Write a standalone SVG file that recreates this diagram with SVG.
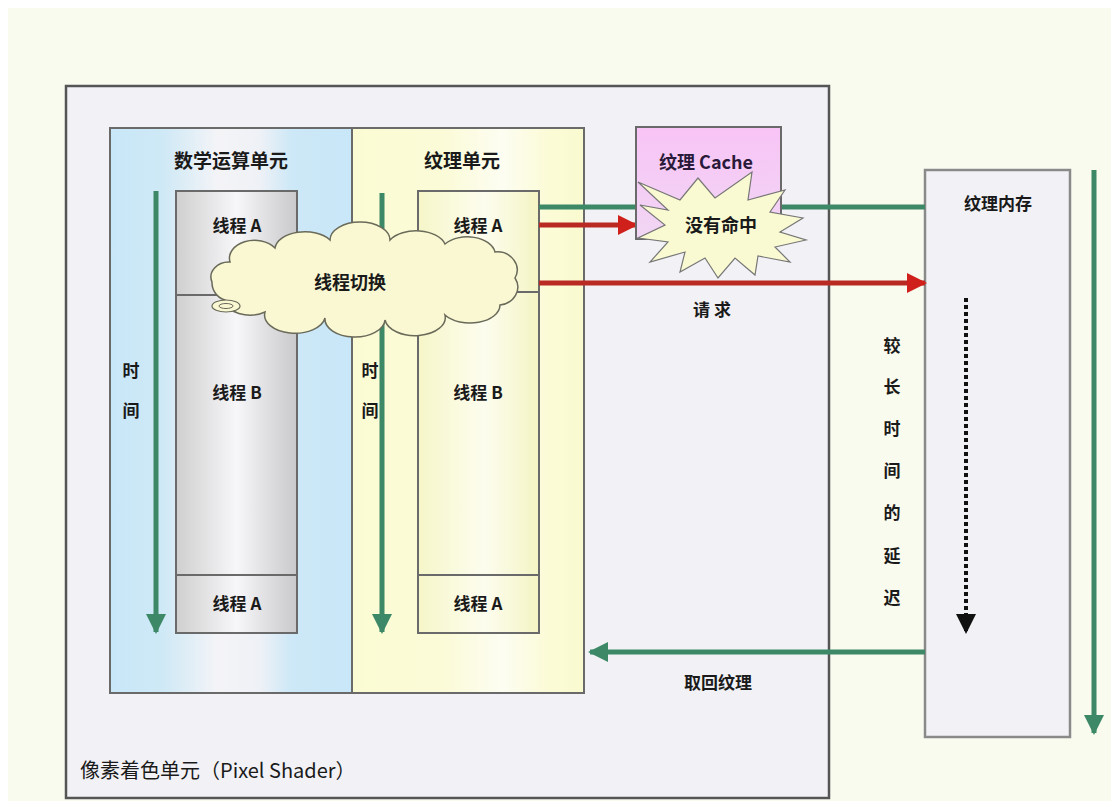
<svg xmlns="http://www.w3.org/2000/svg" width="1111" height="801" viewBox="0 0 1111 801">
<defs>
<style>
.t{font-family:"Noto Sans CJK SC","Noto Sans",sans-serif;font-weight:bold;fill:#1a1a1a;text-anchor:middle}
.box{stroke:#6a6a6a;stroke-width:2}
.g{stroke:#3d8867;stroke-width:5;fill:none}
.r{stroke:#b82a22;stroke-width:5;fill:none}
</style>
<linearGradient id="blue" x1="0" x2="1" y1="0" y2="0">
<stop offset="0" stop-color="#c8e7f8"/><stop offset="0.22" stop-color="#cfe9f6"/><stop offset="0.45" stop-color="#f4f4f7"/><stop offset="0.62" stop-color="#eef1f6"/><stop offset="0.75" stop-color="#cde8f7"/><stop offset="1" stop-color="#c8e7f8"/>
</linearGradient>
<linearGradient id="yel" x1="0" x2="1" y1="0" y2="0">
<stop offset="0" stop-color="#fbfbd3"/><stop offset="0.4" stop-color="#fbfbd8"/><stop offset="0.65" stop-color="#fdfdf2"/><stop offset="0.85" stop-color="#fbfbd6"/><stop offset="1" stop-color="#fafad0"/>
</linearGradient>
<linearGradient id="grey" x1="0" x2="1" y1="0" y2="0">
<stop offset="0" stop-color="#cfcfd0"/><stop offset="0.5" stop-color="#f7f7f9"/><stop offset="1" stop-color="#c9c9cb"/>
</linearGradient>
<linearGradient id="ythr" x1="0" x2="1" y1="0" y2="0">
<stop offset="0" stop-color="#f6f6c9"/><stop offset="0.55" stop-color="#fdfdef"/><stop offset="1" stop-color="#f4f4c4"/>
</linearGradient>
<linearGradient id="pink" x1="0" x2="0" y1="0" y2="1">
<stop offset="0" stop-color="#f8c4f6"/><stop offset="1" stop-color="#f1d6f4"/>
</linearGradient>
<marker id="ag" viewBox="0 0 10 10" refX="9" refY="5" markerWidth="4" markerHeight="4" orient="auto" markerUnits="strokeWidth"><path d="M0,0 L10,5 L0,10 Z" fill="#3d8867"/></marker>
<marker id="ar" viewBox="0 0 10 10" refX="9" refY="5" markerWidth="4" markerHeight="4" orient="auto" markerUnits="strokeWidth"><path d="M0,0 L10,5 L0,10 Z" fill="#d0201c"/></marker>
<marker id="ak" viewBox="0 0 10 10" refX="9" refY="5" markerWidth="5" markerHeight="5" orient="auto" markerUnits="strokeWidth"><path d="M0,0 L10,5 L0,10 Z" fill="#111"/></marker>
</defs>
<rect width="1111" height="801" fill="#ffffff"/>
<rect x="8" y="8" width="1103" height="793" fill="#fafbef"/>

<g id="pixel-shader">
<rect x="66" y="86" width="763" height="712" fill="#f2f2f6" stroke="#555" stroke-width="2.5"/>
<text x="80" y="778" style="font-family:'Noto Sans CJK SC',sans-serif;font-size:20px;fill:#1a1a1a">像素着色单元（Pixel Shader）</text>
</g>

<g id="math-unit">
<rect class="box" x="110" y="128" width="242" height="565" fill="url(#blue)"/>
<text class="t" x="231" y="168" font-size="19">数学运算单元</text>
<text class="t" x="131" y="377" font-size="17">时</text>
<text class="t" x="131" y="417" font-size="17">间</text>
</g>

<g id="texture-unit">
<rect class="box" x="352" y="128" width="232" height="565" fill="url(#yel)"/>
<text class="t" x="462" y="168" font-size="19">纹理单元</text>
<text class="t" x="370" y="377" font-size="17">时</text>
<text class="t" x="370" y="417" font-size="17">间</text>
</g>

<g id="math-threads">
<rect class="box" x="176" y="191" width="121" height="442" fill="url(#grey)"/>
<line x1="176" y1="295" x2="297" y2="295" stroke="#6a6a6a" stroke-width="2"/>
<line x1="176" y1="575" x2="297" y2="575" stroke="#6a6a6a" stroke-width="2"/>
<text class="t" x="237" y="232" font-size="17">线程 A</text>
<text class="t" x="237" y="399" font-size="17">线程 B</text>
<text class="t" x="237" y="610" font-size="17">线程 A</text>
</g>

<g id="tex-threads">
<rect class="box" x="418" y="191" width="121" height="442" fill="url(#ythr)"/>
<line x1="418" y1="292" x2="539" y2="292" stroke="#6a6a6a" stroke-width="2"/>
<line x1="418" y1="575" x2="539" y2="575" stroke="#6a6a6a" stroke-width="2"/>
<text class="t" x="478" y="232" font-size="17">线程 A</text>
<text class="t" x="478" y="399" font-size="17">线程 B</text>
<text class="t" x="478" y="610" font-size="17">线程 A</text>
</g>

<g id="texture-memory">
<rect x="925" y="170" width="145" height="567" fill="#f2f2f6" stroke="#8a8a8a" stroke-width="2.5"/>
<text class="t" x="998" y="210" font-size="17">纹理内存</text>
</g>

<g id="connectors">
<line class="g" x1="156" y1="191" x2="156" y2="632" marker-end="url(#ag)"/>
<line class="g" x1="382" y1="193" x2="382" y2="632" marker-end="url(#ag)"/>
<line class="g" x1="539" y1="207" x2="925" y2="207"/>
<line class="r" x1="539" y1="225" x2="636" y2="225" marker-end="url(#ar)"/>
<line class="r" x1="539" y1="283" x2="925" y2="283" marker-end="url(#ar)"/>
<line x1="966" y1="298" x2="966" y2="632" stroke="#111" stroke-width="4" stroke-dasharray="4 3" marker-end="url(#ak)"/>
<line class="g" x1="1094" y1="170" x2="1094" y2="733" marker-end="url(#ag)"/>
<line class="g" x1="925" y1="652" x2="590" y2="652" marker-end="url(#ag)"/>
</g>

<g id="texture-cache">
<rect x="636" y="127" width="145" height="112" fill="url(#pink)" stroke="#6a6a6a" stroke-width="2"/>
<text x="706" y="169" style="font-family:'Noto Sans CJK SC','Liberation Serif',serif;font-size:18px;font-weight:bold;fill:#2a1a3a;text-anchor:middle">纹理 Cache</text>
</g>

<g id="cache-miss">
<polygon points="638,182 680,200 698,178 715,198 752,172 748,200 785,190 770,212 803,218 780,232 806,240 775,247 790,262 758,256 755,275 735,258 718,278 705,258 680,272 685,252 650,262 668,242 638,238 665,225 640,205 668,210" fill="#fafad2" stroke="#777" stroke-width="1.2"/>
<text class="t" x="721" y="232" font-size="18">没有命中</text>
</g>

<g id="thread-switch">
<path d="M230,262 A25 18 0 0 1 275,248 A30 18 0 0 1 330,240 A30 18 0 0 1 390,240 A30 18 0 0 1 445,244 A28 18 0 0 1 495,252 A20 18 0 0 1 515,278 A20 18 0 0 1 500,305 A30 18 0 0 1 445,315 A30 18 0 0 1 385,320 A30 18 0 0 1 325,318 A30 18 0 0 1 265,312 A25 15 0 0 1 225,300 A18 18 0 0 1 212,282 A18 15 0 0 1 230,262 Z" fill="#f9f8d2" stroke="#6a6a5a" stroke-width="1.5"/>
<ellipse cx="226" cy="306" rx="14" ry="6" fill="#f9f8d2" stroke="#6a6a5a" stroke-width="1.2"/>
<ellipse cx="226" cy="306" rx="7" ry="2.5" fill="none" stroke="#6a6a5a" stroke-width="1"/>
<text class="t" x="350" y="289" font-size="18">线程切换</text>
</g>

<g id="labels">
<text class="t" x="712" y="316" font-size="17">请 求</text>
<text class="t" x="718" y="689" font-size="17">取回纹理</text>
<text class="t" x="892" y="352" font-size="17">较</text>
<text class="t" x="892" y="393" font-size="17">长</text>
<text class="t" x="892" y="435" font-size="17">时</text>
<text class="t" x="892" y="477" font-size="17">间</text>
<text class="t" x="892" y="519" font-size="17">的</text>
<text class="t" x="892" y="562" font-size="17">延</text>
<text class="t" x="892" y="604" font-size="17">迟</text>
</g>
</svg>
